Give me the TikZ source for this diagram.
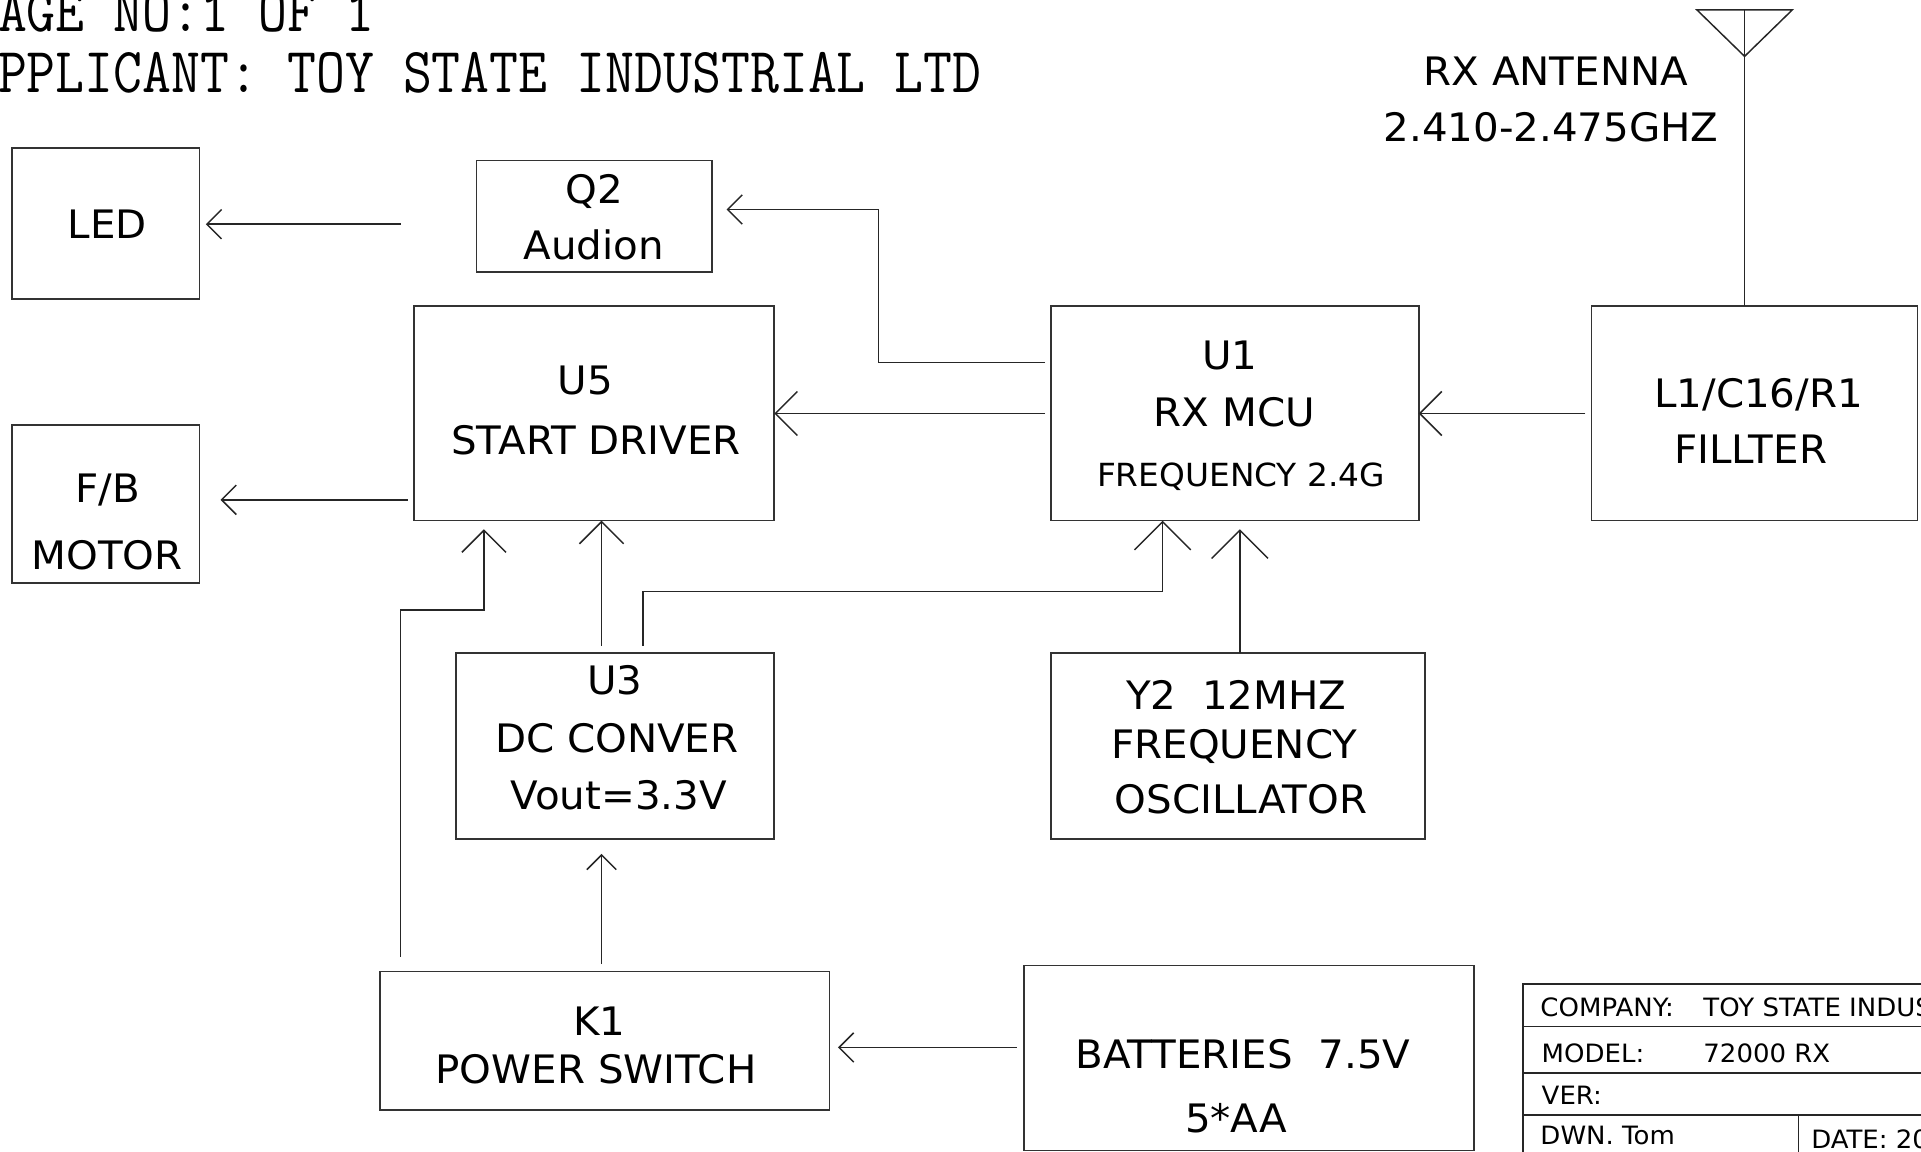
\documentclass[tikz,border=0pt]{standalone}
\usepackage{fontspec}
\setmainfont{DejaVu Sans}[FakeStretch=1.03]
\usepackage{graphicx}
\usetikzlibrary{arrows.meta}
\begin{document}
\begin{tikzpicture}[x=0.5pt,y=-0.5pt,
  box/.style={draw=black!80, line width=0.65pt, inner sep=0pt, outer sep=0pt},
  lbl/.style={anchor=base, inner sep=0pt, font=\fontsize{16}{19}\selectfont},
  lblsmall/.style={anchor=base, inner sep=0pt, font=\fontsize{13}{15}\selectfont},
  tb/.style={anchor=base west, inner sep=0pt, font=\fontsize{10.3}{12}\selectfont},
  hdr/.style={anchor=base west, inner sep=0pt, font=\fontsize{26.2}{30}\ttfamily},
  conn/.style={draw=black!85, line width=0.6pt},
  arrS/.style={conn, -{Straight Barb[length=6pt,width=12pt]}},
  arrM/.style={conn, -{Straight Barb[length=9pt,width=18pt]}},
  arrL/.style={conn, -{Straight Barb[length=11.5pt,width=23pt]}}]
\useasboundingbox (0,0) rectangle (1568,940);
\clip (0,0) rectangle (1568,940);

% header text
\node[hdr] (page) at (-2,26) {\scalebox{0.875}[1]{AGE NO:1 OF 1}};
\node[hdr] (appl) at (-2,75.5) {\scalebox{0.875}[1]{PPLICANT: TOY STATE INDUSTRIAL LTD}};

% boxes
\node[box, minimum width=76.5pt, minimum height=61.5pt] (led) at (86.5,182.5) {};
\node[box, minimum width=96pt, minimum height=45.5pt] (q2) at (485,176.5) {};
\node[box, minimum width=147pt, minimum height=87.5pt] (u5) at (485,337.5) {};
\node[box, minimum width=76.5pt, minimum height=64.5pt] (fb) at (86.5,411.5) {};
\node[box, minimum width=150pt, minimum height=87.5pt] (u1) at (1008,337.5) {};
\node[box, minimum width=133pt, minimum height=87.5pt] (flt) at (1432,337.5) {};
\node[box, minimum width=130pt, minimum height=76pt] (u3) at (502,609) {};
\node[box, minimum width=152.5pt, minimum height=76pt] (y2) at (1010.5,609) {};
\node[box, minimum width=183.5pt, minimum height=56.5pt] (k1) at (493.5,849.5) {};
\node[box, minimum width=183.5pt, minimum height=75.5pt] (bat) at (1019.5,863.5) {};

% labels
\node[lbl] (ledT) at (87.5,195) {LED};
\node[lbl] (q2T1) at (485,166) {Q2};
\node[lbl] (q2T2) at (484.5,212) {Audion};
\node[lbl] (u5T1) at (478,322) {U5};
\node[lbl] (u5T2) at (486.5,371) {START DRIVER};
\node[lbl] (fbT1) at (88,410) {F/B};
\node[lbl] (fbT2) at (87.5,465) {MOTOR};
\node[lbl] (u1T1) at (1004,302) {U1};
\node[lbl] (u1T2) at (1007.5,348) {RX MCU};
\node[lblsmall] (u1T3) at (1013,397.5) {FREQUENCY 2.4G};
\node[lbl] (fltT1) at (1435.5,333) {L1/C16/R1};
\node[lbl] (fltT2) at (1429,378) {FILLTER};
\node[lbl] (u3T1) at (502,567) {U3};
\node[lbl] (u3T2) at (503.5,614) {DC CONVER};
\node[lbl] (u3T3) at (505,661) {Vout=3.3V};
\node[lbl] (y2T1) at (1009,579) {Y2\ \ 12MHZ};
\node[lbl] (y2T2) at (1007.5,619) {FREQUENCY};
\node[lbl] (y2T3) at (1013,664) {OSCILLATOR};
\node[lbl] (k1T1) at (489,845) {K1};
\node[lbl] (k1T2) at (486.5,884) {POWER SWITCH};
\node[lbl] (batT1) at (1014.5,872) {BATTERIES\ \ 7.5V};
\node[lbl] (batT2) at (1009,924) {5*AA};
\node[lbl] (antT1) at (1270,69.5) {RX ANTENNA};
\node[lbl] (antT2) at (1266,115.6) {2.410-2.475GHZ};

% antenna
\coordinate (ant) at (1424,8);
\coordinate (antL) at (1385,8);
\coordinate (antR) at (1463,8);
\coordinate (antB) at (1424,46);
\draw[conn] (antL) -- (antR) -- (antB) -- cycle;
\draw[conn] (ant) -- (flt.north -| ant);

% helper coordinates
\coordinate (j1) at (717,296);
\coordinate (j2) at (717,171);
\coordinate (j3) at (327,498);
\coordinate (j4) at (395,498);
\coordinate (j5) at (491,480);
\coordinate (j6) at (525,483);
\coordinate (j7) at (949,483);
\coordinate (j8) at (1012,480);
\coordinate (j9) at (760,855);
\coordinate (j10) at (250,408);
\coordinate (j11) at (250,183);

% connectors
\draw[arrS, shorten <=31pt, shorten >=2.5pt] (q2.west |- j11) -- (led.east |- j11);
\draw[arrS, shorten <=2.5pt, shorten >=6pt] (u1.west |- j1) -- (j1) -- (j2) -- (q2.east |- j2);
\draw[arrM, shorten <=2.5pt] (u1.west) -- (u5.east);
\draw[arrS, shorten <=2.5pt, shorten >=8.5pt] (u5.west |- j10) -- (fb.east |- j10);
\draw[arrM, shorten <=2.5pt] (flt.west) -- (u1.east);
\draw[arrM, shorten <=6pt, shorten >=3.5pt] (k1.north -| j3) -- (j3) -- (j4) -- (u5.south -| j4);
\draw[arrM, shorten <=3pt] (u3.north -| j5) -- (u5.south -| j5);
\draw[arrL, shorten <=3pt] (u3.north -| j6) -- (j6) -- (j7) -- (u1.south -| j7);
\draw[arrL, shorten >=3.5pt] (y2.north -| j8) -- (u1.south -| j8);
\draw[arrS, shorten <=3pt, shorten >=6pt] (k1.north -| j5) -- (u3.south -| j5);
\draw[arrS, shorten <=3pt, shorten >=3.5pt] (bat.west |- j9) -- (k1.east |- j9);

% title block
\draw[conn] (1243,950) -- (1243,803) -- (1580,803);
\draw[conn] (1243,838) -- (1580,838);
\draw[conn] (1243,876) -- (1580,876);
\draw[conn] (1243,910) -- (1580,910);
\draw[conn] (1468,910) -- (1468,950);
\node[tb] (tbC1) at (1257,829.5) {COMPANY:};
\node[tb] (tbC2) at (1390,829.5) {TOY STATE INDUS};
\node[tb] (tbM1) at (1258,867.5) {MODEL:};
\node[tb] (tbM2) at (1390,867.5) {72000 RX};
\node[tb] (tbV) at (1258,901.5) {VER:};
\node[tb] (tbD) at (1257,934.5) {DWN. Tom};
\node[tb] (tbDt) at (1478,937.5) {DATE: 20};
\end{tikzpicture}
\end{document}
